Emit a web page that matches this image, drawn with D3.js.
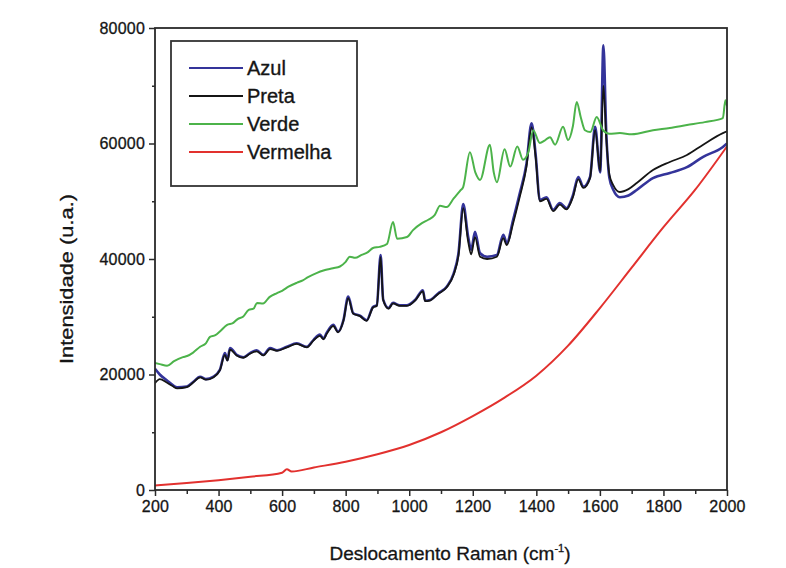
<!DOCTYPE html>
<html>
<head>
<meta charset="utf-8">
<script src="https://cdn.jsdelivr.net/npm/d3@7"></script>
<style>
  body { margin: 0; background: #fff; }
  text { font-family: "Liberation Sans", Arial, sans-serif; fill: #151515; }
</style>
</head>
<body>
<div id="app"></div>
<script>
const WIDTH = 786;
const HEIGHT = 568;
const margin = { top: 28, right: 59, bottom: 78, left: 155 };

const xTicks = [200, 400, 600, 800, 1000, 1200, 1400, 1600, 1800, 2000];
const xMinorTicks = [300, 500, 700, 900, 1100, 1300, 1500, 1700, 1900];
const yTicks = [0, 20000, 40000, 60000, 80000];
const yMinorTicks = [10000, 30000, 50000, 70000];

const seriesNames = ["Azul", "Preta", "Verde", "Vermelha"];
const seriesColors = ["#34349a", "#151515", "#4cb34a", "#e2312e"];

// [deslocamento, intensidade]
const azul = [
  [200, 21000], [215, 20000], [237, 19000], [255, 18200], [270, 17800], [300, 17900],
  [320, 18700], [342, 19600], [360, 19200], [383, 19600], [404, 20800], [420, 23700],
  [428, 22500], [436, 24600], [457, 23400], [478, 23000], [499, 23700], [520, 24200],
  [541, 23400], [562, 24600], [584, 24200], [615, 24800], [646, 25400], [678, 24800],
  [699, 26000], [719, 26900], [730, 26200], [740, 27200], [761, 28600], [776, 27400],
  [793, 29400], [808, 33500], [824, 30600], [845, 30200], [866, 29400], [886, 31700],
  [898, 32000], [910, 40700], [918, 33000], [935, 31500], [949, 32400], [970, 32000],
  [993, 32000], [1020, 33000], [1043, 34600], [1050, 32800], [1065, 32900], [1090, 34000],
  [1118, 35200], [1140, 37500], [1155, 41000], [1170, 49500], [1185, 44000], [1195, 41600],
  [1207, 44700], [1223, 41000], [1245, 40400], [1276, 40700], [1296, 44200], [1307, 42800],
  [1327, 46800], [1348, 51400], [1369, 56500], [1385, 63500], [1398, 58000], [1411, 50200],
  [1432, 50700], [1453, 48500], [1474, 49700], [1495, 48800], [1515, 51000], [1532, 54200],
  [1548, 52500], [1569, 54200], [1585, 62900], [1601, 55000], [1611, 77000], [1620, 62000],
  [1630, 54000], [1642, 52000], [1663, 50700], [1690, 51000], [1717, 52000], [1767, 54000],
  [1820, 54900], [1874, 55900], [1925, 57700], [1987, 59400], [2000, 60000]
];

const preta = [
  [200, 18500], [215, 19200], [237, 18600], [255, 18000], [270, 17600], [300, 17800],
  [320, 18600], [342, 19500], [360, 19100], [383, 19500], [404, 20700], [420, 23400],
  [428, 22400], [436, 24300], [457, 23300], [478, 22900], [499, 23600], [520, 24000],
  [541, 23300], [562, 24400], [584, 24100], [615, 24700], [646, 25300], [678, 24700],
  [699, 25900], [719, 26700], [730, 26100], [740, 27000], [761, 28400], [776, 27300],
  [793, 29300], [808, 33200], [824, 30500], [845, 30100], [866, 29300], [886, 31600],
  [898, 31900], [910, 40300], [918, 32900], [935, 31400], [949, 32300], [970, 31900],
  [993, 31900], [1020, 32900], [1043, 34400], [1050, 32700], [1065, 32800], [1090, 33900],
  [1118, 35100], [1140, 37300], [1155, 40600], [1170, 48800], [1185, 43200], [1195, 40800],
  [1207, 43800], [1223, 40400], [1245, 40000], [1276, 40400], [1296, 43600], [1307, 42400],
  [1327, 46200], [1348, 50800], [1369, 56000], [1385, 62800], [1398, 57500], [1411, 50000],
  [1432, 50400], [1453, 48300], [1474, 49400], [1495, 48600], [1515, 50700], [1532, 53800],
  [1548, 52300], [1569, 54000], [1585, 62300], [1601, 55200], [1611, 70000], [1620, 61000],
  [1630, 54600], [1642, 52800], [1663, 51600], [1690, 52100], [1717, 53200], [1767, 55400],
  [1820, 56800], [1874, 58000], [1925, 59800], [1987, 61800], [2000, 62100]
];

const verde = [
  [200, 22000], [215, 21800], [238, 21500], [260, 22300], [288, 23000], [301, 23200],
  [320, 23800], [342, 24800], [360, 25400], [373, 26500], [390, 26800], [405, 27500],
  [427, 28600], [445, 28900], [460, 29600], [477, 30000], [495, 31200], [510, 31400],
  [521, 32400], [540, 32300], [560, 33400], [584, 34100], [600, 34500], [620, 35200],
  [647, 35900], [665, 36300], [680, 36800], [710, 37600], [730, 38000], [760, 38400],
  [782, 38700], [800, 39500], [813, 40400], [830, 40200], [850, 40700], [870, 41200],
  [886, 41900], [907, 42100], [930, 42600], [949, 46400], [962, 43500], [993, 43800],
  [1012, 45000], [1040, 46200], [1060, 46800], [1080, 47600], [1097, 49200], [1118, 49000],
  [1140, 50500], [1160, 51800], [1170, 52500], [1191, 58500], [1208, 55000], [1223, 53700],
  [1254, 59800], [1266, 55000], [1276, 53300], [1300, 59000], [1318, 56000], [1340, 59500],
  [1358, 57200], [1375, 58500], [1390, 62300], [1411, 60100], [1426, 60500], [1443, 61100],
  [1459, 59800], [1484, 62900], [1500, 60600], [1515, 63000], [1527, 67200], [1540, 64500],
  [1553, 62300], [1570, 62000], [1590, 64600], [1610, 62300], [1630, 61700], [1663, 61800],
  [1700, 61600], [1767, 62300], [1820, 62700], [1874, 63200], [1930, 63700], [1987, 64400],
  [1995, 67500], [2000, 66500]
];

const vermelha = [
  [200, 800], [300, 1200], [400, 1700], [500, 2300], [600, 3000], [615, 3600],
  [630, 3200], [700, 3900], [800, 4900], [900, 6200], [1000, 7800], [1100, 10000],
  [1200, 12800], [1300, 16000], [1400, 19800], [1500, 25000], [1600, 31500],
  [1700, 38500], [1800, 45500], [1900, 52000], [2000, 59500]
];

const seriesData = [azul, preta, verde, vermelha];
const seriesWidths = [2.6, 1.8, 2, 2];

const x = d3.scaleLinear().domain([200, 2000]).range([margin.left, WIDTH - margin.right]);
const y = d3.scaleLinear().domain([0, 80000]).range([HEIGHT - margin.bottom, margin.top]);

const svg = d3.select("#app").append("svg")
  .attr("width", WIDTH)
  .attr("height", HEIGHT);

svg.append("defs").append("clipPath").attr("id", "plot-clip")
  .append("rect")
  .attr("x", margin.left).attr("y", margin.top)
  .attr("width", WIDTH - margin.left - margin.right)
  .attr("height", HEIGHT - margin.top - margin.bottom);

const line = d3.line()
  .curve(d3.curveMonotoneX)
  .x((d) => x(d[0]))
  .y((d) => y(d[1]));

const lines = svg.append("g").attr("clip-path", "url(#plot-clip)");
seriesData.forEach((data, i) => {
  lines.append("path")
    .datum(data)
    .attr("fill", "none")
    .attr("stroke", seriesColors[i])
    .attr("stroke-width", seriesWidths[i])
    .attr("stroke-linejoin", "round")
    .attr("d", line);
});

// frame
svg.append("rect")
  .attr("x", margin.left).attr("y", margin.top)
  .attr("width", WIDTH - margin.left - margin.right)
  .attr("height", HEIGHT - margin.top - margin.bottom)
  .attr("fill", "none")
  .attr("stroke", "#2a2a2a")
  .attr("stroke-width", 1.8);

function styleAxis(g) {
  g.select(".domain").remove();
  g.selectAll(".tick line").attr("stroke", "#2a2a2a").attr("stroke-width", 1.5);
  g.selectAll(".tick text")
    .attr("fill", "#151515")
    .attr("stroke", "#151515")
    .attr("stroke-width", 0.3)
    .style("font-size", "16px")
    .style("letter-spacing", "0.2px");
}

svg.append("g")
  .attr("transform", `translate(0,${HEIGHT - margin.bottom})`)
  .call(d3.axisBottom(x).tickValues(xMinorTicks).tickSize(4).tickFormat(""))
  .call(styleAxis);

svg.append("g")
  .attr("transform", `translate(0,${HEIGHT - margin.bottom})`)
  .call(d3.axisBottom(x).tickValues(xTicks).tickSize(6).tickPadding(5).tickFormat(d3.format("d")))
  .call(styleAxis);

svg.append("g")
  .attr("transform", `translate(${margin.left},0)`)
  .call(d3.axisLeft(y).tickValues(yMinorTicks).tickSize(3).tickFormat(""))
  .call(styleAxis);

svg.append("g")
  .attr("transform", `translate(${margin.left},0)`)
  .call(d3.axisLeft(y).tickValues(yTicks).tickSize(6).tickPadding(4).tickFormat(d3.format("d")))
  .call(styleAxis);

// axis titles
const xTitle = svg.append("text")
  .attr("x", 450).attr("y", 560)
  .attr("text-anchor", "middle")
  .attr("stroke", "#151515")
  .attr("stroke-width", 0.3)
  .style("font-size", "19px");
xTitle.append("tspan").text("Deslocamento Raman (cm");
xTitle.append("tspan").attr("dy", -8).style("font-size", "11px").text("-1");
xTitle.append("tspan").attr("dy", 8).text(")");

svg.append("text")
  .attr("transform", `translate(73,${(margin.top + HEIGHT - margin.bottom) / 2 + 20}) rotate(-90)`)
  .attr("text-anchor", "middle")
  .attr("textLength", 170)
  .attr("lengthAdjust", "spacingAndGlyphs")
  .attr("stroke", "#151515")
  .attr("stroke-width", 0.3)
  .style("font-size", "18px")
  .text("Intensidade (u.a.)");

// legend
const legend = svg.append("g");
legend.append("rect")
  .attr("x", 171).attr("y", 41)
  .attr("width", 186).attr("height", 145)
  .attr("fill", "#fff")
  .attr("stroke", "#333")
  .attr("stroke-width", 1.8);

seriesNames.forEach((name, i) => {
  const cy = 68 + i * 28;
  legend.append("line")
    .attr("x1", 189).attr("x2", 243)
    .attr("y1", cy).attr("y2", cy)
    .attr("stroke", seriesColors[i])
    .attr("stroke-width", 2);
  legend.append("text")
    .attr("x", 247).attr("y", cy + 7)
    .attr("stroke", "#151515")
    .attr("stroke-width", 0.35)
    .style("font-size", "20px")
    .text(name);
});
</script>
</body>
</html>
